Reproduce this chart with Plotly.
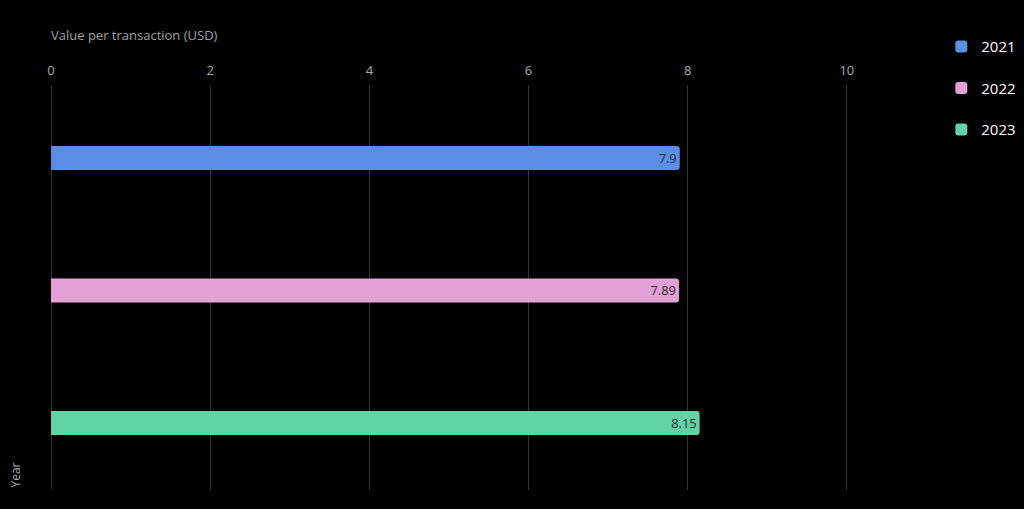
import plotly.graph_objects as go

years = ["2021", "2022", "2023"]
values = [7.9, 7.89, 8.15]
colors = ["#5b8fe6", "#e4a1d8", "#62d4a4"]
x_ticks = [0, 2, 4, 6, 8, 10]

fig = go.Figure()
for yr, v, c in zip(years, values, colors):
    fig.add_trace(go.Bar(
        x=[v], y=[yr], orientation="h", name=yr,
        marker=dict(color=c, line=dict(width=0), cornerradius=3),
        width=0.18,
        text=[f"{v:g}"], textposition="inside", insidetextanchor="end",
        textfont=dict(color="#2a2a2a", size=13, family="Open Sans"),
        legendgroup=yr,
    ))

fig.update_layout(
    width=1024, height=509,
    paper_bgcolor="#000000", plot_bgcolor="#000000",
    margin=dict(l=51, r=10, t=85, b=19, autoexpand=False),
    barmode="overlay",
    showlegend=True,
    legend=dict(x=0.9245, y=1.135, xanchor="left", yanchor="top",
                font=dict(color="#ffffff", size=15, family="Open Sans"),
                tracegroupgap=19, bgcolor="rgba(0,0,0,0)"),
    font=dict(family="Open Sans", color="#aaaaaa"),
    xaxis=dict(side="top", range=[0, 12.1], tickvals=x_ticks,
               showgrid=True, gridcolor="#333333", gridwidth=1,
               zeroline=True, zerolinecolor="#333333", zerolinewidth=1,
               showline=False, ticks="", ticklabelstandoff=6,
               tickfont=dict(color="#aaaaaa", size=13)),
    yaxis=dict(type="category", categoryorder="array", categoryarray=years,
               range=[2.506, -0.551], showticklabels=False, showgrid=False,
               zeroline=False, showline=False, ticks=""),
    annotations=[
        dict(text="Value per transaction (USD)", xref="paper", yref="paper",
             x=0, xshift=-2, y=1.0, yshift=39, xanchor="left", yanchor="bottom", showarrow=False,
             font=dict(color="#a0a0a0", size=13, family="Open Sans")),
        dict(text="Year", xref="paper", yref="paper", x=0, xshift=-36, y=0,
             yshift=0, yanchor="bottom", xanchor="center", textangle=-90, showarrow=False,
             font=dict(color="#aaaaaa", size=12, family="Open Sans")),
    ],
)

fig.write_html("out.html", config={"displayModeBar": False},
               post_script="document.body.style.margin='0';")
